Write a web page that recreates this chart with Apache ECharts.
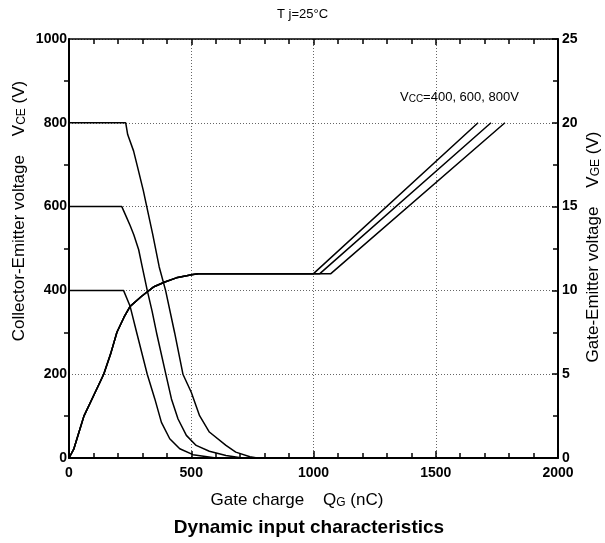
<!DOCTYPE html>
<html>
<head>
<meta charset="utf-8">
<script src="https://cdn.jsdelivr.net/npm/echarts@6/dist/echarts.min.js"></script>
<style>html,body{margin:0;padding:0;background:#fff}#c{width:605px;height:543px}</style>
</head>
<body>
<div id="c"></div>
<script>
// Collector-emitter voltage curves (gate charge nC, VCE V)
const q400 = [0, 223, 250, 277, 320, 351, 378, 412, 453, 507, 601];
const v400 = [400, 400, 362, 299, 200, 141, 85, 46, 22, 8, 0];
const q600 = [0, 216, 235, 250, 265, 285, 300, 320, 340, 358, 396, 419, 446, 480, 520, 574, 642, 709];
const v600 = [600, 600, 575, 555, 533, 497, 455, 400, 350, 299, 200, 141, 93, 54, 30, 16, 6, 0];
const q800 = [0, 232, 240, 264, 281, 304, 318, 342, 369, 395, 432, 466, 500, 534, 574, 642, 682, 740, 770];
const v800 = [800, 800, 772, 733, 693, 638, 600, 535, 456, 400, 299, 200, 157, 101, 62, 30, 14, 3, 0];
// Gate-emitter voltage (shared rise), then plateau ends and ramps for Vcc=400,600,800
const qVge = [0, 20, 41, 61, 100, 142, 170, 196, 225, 250, 297, 345, 392, 439, 507, 530];
const vVge = [0, 0.55, 1.55, 2.5, 3.7, 5, 6.2, 7.5, 8.4, 9.05, 9.65, 10.2, 10.5, 10.75, 10.95, 11];
const vccLabels = ['400', '600', '800'];
const plateauV = 11;
const plateauEnd = [1000, 1026, 1071];
const rampEndQ = [1673, 1726, 1783];
const rampEndV = 20;
// Axis ticks
const xTicks = [0, 500, 1000, 1500, 2000];
const yLeftTicks = [0, 200, 400, 600, 800, 1000];
const yRightTicks = [0, 5, 10, 15, 20, 25];

const zip = (a, b) => a.map((x, i) => [x, b[i]]);
const FF = '"Liberation Sans", Arial, Helvetica, sans-serif';
const lineS = { color: '#000', width: 1.5 };

const series = [];
[[q400, v400], [q600, v600], [q800, v800]].forEach(([q, v], i) => {
  series.push({ name: 'VCE ' + vccLabels[i], type: 'line', xAxisIndex: 0, yAxisIndex: 0,
    data: zip(q, v), showSymbol: false, lineStyle: lineS, silent: true });
});
vccLabels.forEach((lab, i) => {
  const d = zip(qVge, vVge);
  d.push([plateauEnd[i], plateauV]);
  d.push([rampEndQ[i], rampEndV]);
  series.push({ name: 'VGE ' + lab, type: 'line', xAxisIndex: 0, yAxisIndex: 1,
    data: d, showSymbol: false, lineStyle: lineS, silent: true });
});

const plain = v => String(v);
const tickLbl = { color: '#000', fontWeight: 'bold', fontSize: 14, fontFamily: FF, formatter: plain };
const axisLineS = { color: '#000', width: 2 };
const gridS = { type: [1, 2], color: '#666', width: 1 };

const option = {
  animation: false,
  backgroundColor: '#fff',
  grid: { left: 69, right: 47, top: 39, bottom: 85 },
  xAxis: [
    { type: 'value', min: xTicks[0], max: xTicks[xTicks.length - 1], interval: xTicks[1] - xTicks[0],
      axisLine: { lineStyle: axisLineS },
      axisTick: { inside: true, length: 7, lineStyle: { color: '#000', width: 1.5 } },
      minorTick: { show: true, splitNumber: 5, length: 5, lineStyle: { color: '#000', width: 1.5 } },
      splitLine: { show: true, lineStyle: gridS },
      axisLabel: Object.assign({ margin: 8 }, tickLbl) },
    { type: 'value', position: 'top', min: xTicks[0], max: xTicks[xTicks.length - 1], interval: xTicks[1] - xTicks[0],
      axisLine: { onZero: false, lineStyle: { color: '#000', width: 1.5 } },
      axisTick: { inside: true, length: 6, lineStyle: { color: '#000', width: 1.5 } },
      minorTick: { show: true, splitNumber: 5, length: 5, lineStyle: { color: '#000', width: 1.5 } },
      splitLine: { show: false }, axisLabel: { show: false } }
  ],
  yAxis: [
    { type: 'value', min: yLeftTicks[0], max: yLeftTicks[yLeftTicks.length - 1], interval: yLeftTicks[1] - yLeftTicks[0],
      axisLine: { lineStyle: axisLineS },
      axisTick: { show: false },
      minorTick: { show: true, splitNumber: 2, length: 5, lineStyle: { color: '#000', width: 1.5 } },
      splitLine: { show: true, lineStyle: gridS },
      axisLabel: Object.assign({ margin: 2 }, tickLbl) },
    { type: 'value', position: 'right', min: yRightTicks[0], max: yRightTicks[yRightTicks.length - 1], interval: yRightTicks[1] - yRightTicks[0],
      axisLine: { onZero: false, lineStyle: axisLineS },
      axisTick: { inside: true, length: 6, lineStyle: { color: '#000', width: 1.5 } },
      minorTick: { show: true, splitNumber: 2, length: 5, lineStyle: { color: '#000', width: 1.5 } },
      splitLine: { show: false },
      axisLabel: Object.assign({ margin: 4 }, tickLbl) }
  ],
  series: series,
  graphic: [
    { type: 'text', left: 'center', top: 8, style: { text: 'T j=25°C', font: '13px ' + FF, fill: '#000' } },
    { type: 'text', x: 400, y: 91, style: {
        text: '{a|V}{s|CC}{a|=400, 600, 800V}', fill: '#000',
        rich: { a: { fontSize: 13, fontFamily: FF, verticalAlign: 'bottom' }, s: { fontSize: 10, fontFamily: FF, verticalAlign: 'bottom' } } } },
    { type: 'text', x: 19, y: 211, rotation: Math.PI / 2, style: {
        text: '{a|Collector-Emitter voltage    V}{s|CE}{a| (V)}', fill: '#000', align: 'center', verticalAlign: 'middle',
        rich: { a: { fontSize: 17, fontFamily: FF, verticalAlign: 'bottom' }, s: { fontSize: 12, fontFamily: FF, verticalAlign: 'bottom' } } } },
    { type: 'text', x: 593, y: 247, rotation: Math.PI / 2, style: {
        text: '{a|Gate-Emitter voltage    V}{s|GE}{a| (V)}', fill: '#000', align: 'center', verticalAlign: 'middle',
        rich: { a: { fontSize: 17, fontFamily: FF, verticalAlign: 'bottom' }, s: { fontSize: 12, fontFamily: FF, verticalAlign: 'bottom' } } } },
    { type: 'text', x: 297, y: 500, style: {
        text: '{a|Gate charge    Q}{s|G}{a| (nC)}', fill: '#000', align: 'center', verticalAlign: 'middle',
        rich: { a: { fontSize: 17, fontFamily: FF, verticalAlign: 'bottom' }, s: { fontSize: 12, fontFamily: FF, verticalAlign: 'bottom' } } } },
    { type: 'text', x: 309, y: 528, style: {
        text: 'Dynamic input characteristics', fill: '#000', align: 'center', verticalAlign: 'middle',
        font: 'bold 19px ' + FF } }
  ]
};
const chart = echarts.init(document.getElementById('c'), null, { renderer: 'canvas' });
chart.setOption(option);
</script>
</body>
</html>
